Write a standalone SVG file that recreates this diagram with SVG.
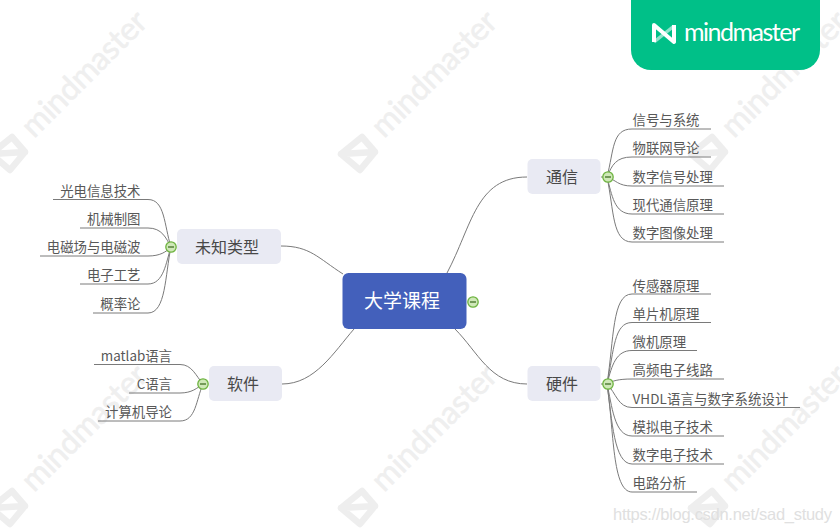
<svg xmlns="http://www.w3.org/2000/svg" xmlns:xlink="http://www.w3.org/1999/xlink" width="840" height="532" viewBox="0 0 840 532">
<style>
text{font-family:"Noto Sans CJK SC","Noto Sans",sans-serif}
.wm{font-family:Lato,"Noto Sans",sans-serif;font-size:32px;fill:#efefef;stroke:#efefef;stroke-width:.6}
.wi{fill:none;stroke:#eeeeee;stroke-width:6.500;stroke-linejoin:round;stroke-linecap:round}
.lf{font-size:13.4px;fill:#585858}
.e{text-anchor:end}
.t{font-size:16px;fill:#484848;text-anchor:middle}
.n{fill:#e9eaf3}
.c{fill:none;stroke:#7a7a7a;stroke-width:1}
.b{fill:#cfe8b8;stroke:#6db33f;stroke-width:1.3}
.m{stroke:#55803a;stroke-width:1.5}
</style>
<defs>
<g id="mark">
<path class="wi" d="M0 0L21 -17L34 -2L19 16ZM0 0L34 -2"/>
<text class="wm" transform="translate(43 -15) rotate(-45)" textLength="163">mindmaster</text>
</g>
<g id="col"><circle class="b" r="5.2"/><line class="m" x1="-3" x2="3" y1="0" y2="0"/></g>
</defs>
<rect width="840" height="532" fill="#fff"/>
<g id="watermarks">
<use xlink:href="#mark" x="-9" y="154"/>
<use xlink:href="#mark" x="341" y="154"/>
<use xlink:href="#mark" x="691" y="154"/>
<use xlink:href="#mark" x="-9" y="508"/>
<use xlink:href="#mark" x="341" y="508"/>
<use xlink:href="#mark" x="691" y="508"/>
</g>
<g id="badge">
<path d="M631 0H820V50A20 20 0 0 1 800 70H651A20 20 0 0 1 631 50Z" fill="#00c088"/>
<path d="M674 26L654 42" fill="none" stroke="#8fe3cb" stroke-width="3.500"/>
<path d="M654 42V25L674 42V25" fill="none" stroke="#fff" stroke-width="4" stroke-linejoin="round"/>
<text x="684" y="40.500" textLength="116" style="font-family:Lato,sans-serif;font-size:25px;fill:#fff;font-weight:400">mindmaster</text>
</g>
<g id="connectors">
<path class="c" d="M447 273C472 226 476 177 527 177"/>
<path class="c" d="M455 329C478 352 490 384 527 384"/>
<path class="c" d="M343 274C318 258 310 246 281 246"/>
<path class="c" d="M354 329C334 352 315 384 282 384"/>
<path class="c" d="M601 177H605"/><path class="c" d="M601 384H605"/>
<path class="c" d="M607 177C614 150 612 129 632 129H711"/>
<path class="c" d="M607 177C612 165 616 157 632 157H711"/>
<path class="c" d="M607 177C616 180 618 186 632 186H724"/>
<path class="c" d="M607 177C612 195 614 214 632 214H724"/>
<path class="c" d="M607 177C614 210 612 242 632 242H724"/>
<path class="c" d="M607 384C614 340 612 294 632 294H711"/>
<path class="c" d="M607 384C614 350 614 322.500 632 322.500H711"/>
<path class="c" d="M607 384C612 365 616 350.500 632 350.500H697"/>
<path class="c" d="M607 384C612 381 618 379 632 379H724"/>
<path class="c" d="M607 384C616 393 618 407.500 632 407.500H800"/>
<path class="c" d="M607 384C612 405 614 436 632 436H724"/>
<path class="c" d="M607 384C612 420 614 464 632 464H724"/>
<path class="c" d="M607 384C614 430 612 492 632 492H697"/>
<path class="c" d="M171 247C164 225 165 199.500 148 199.500H53"/>
<path class="c" d="M171 247C166 238 162 228 148 228H80"/>
<path class="c" d="M171 247C166 252 160 256 148 256H40"/>
<path class="c" d="M171 247C166 262 164 284 148 284H80"/>
<path class="c" d="M171 247C165 275 166 313 148 313H93"/>
<path class="c" d="M203 384C196 376 192 364.500 180 364.500H94"/>
<path class="c" d="M203 384C197 388 192 393 180 393H129"/>
<path class="c" d="M203 384C196 400 196 421 180 421H98"/>
</g>
<g id="root"><rect x="342.500" y="273" width="124" height="56" rx="6" fill="#4360bb"/><text x="402" y="308" text-anchor="middle" style="font-size:19px;fill:#fff">大学课程</text><use xlink:href="#col" x="473" y="302"/></g>
<g id="n-tongxin"><rect class="n" x="527.500" y="159" width="73" height="35" rx="5"/><text class="t" x="562" y="183">通信</text><use xlink:href="#col" x="608" y="177"/></g>
<g id="n-yingjian"><rect class="n" x="527.500" y="366" width="73" height="35" rx="5"/><text class="t" x="562" y="390">硬件</text><use xlink:href="#col" x="608" y="384"/></g>
<g id="n-weizhi"><rect class="n" x="177" y="229" width="104" height="35" rx="5"/><text class="t" x="227" y="253">未知类型</text><use xlink:href="#col" x="171" y="247"/></g>
<g id="n-ruanjian"><rect class="n" x="209" y="366" width="73" height="35" rx="5"/><text class="t" x="243" y="390">软件</text><use xlink:href="#col" x="203" y="384"/></g>
<g id="leaves-tongxin">
<text class="lf" x="632.500" y="125">信号与系统</text>
<text class="lf" x="632.500" y="153">物联网导论</text>
<text class="lf" x="632.500" y="182">数字信号处理</text>
<text class="lf" x="632.500" y="210">现代通信原理</text>
<text class="lf" x="632.500" y="238">数字图像处理</text>
</g>
<g id="leaves-yingjian">
<text class="lf" x="632.500" y="291">传感器原理</text>
<text class="lf" x="632.500" y="319">单片机原理</text>
<text class="lf" x="632.500" y="347">微机原理</text>
<text class="lf" x="632.500" y="375">高频电子线路</text>
<text class="lf" x="632.500" y="404" textLength="156">VHDL语言与数字系统设计</text>
<text class="lf" x="632.500" y="432">模拟电子技术</text>
<text class="lf" x="632.500" y="460">数字电子技术</text>
<text class="lf" x="632.500" y="488">电路分析</text>
</g>
<g id="leaves-weizhi">
<text class="lf e" x="140.500" y="196">光电信息技术</text>
<text class="lf e" x="140.500" y="224">机械制图</text>
<text class="lf e" x="140.500" y="252">电磁场与电磁波</text>
<text class="lf e" x="140.500" y="280">电子工艺</text>
<text class="lf e" x="140.500" y="309">概率论</text>
</g>
<g id="leaves-ruanjian">
<text class="lf e" x="172" y="361">matlab语言</text>
<text class="lf e" x="172" y="389">C语言</text>
<text class="lf e" x="172" y="417">计算机导论</text>
</g>
<text x="613" y="520" textLength="219" style="font-family:'Liberation Sans',sans-serif;font-size:16.500px;fill:#e0e0e0">https://blog.csdn.net/sad_study</text>
</svg>
